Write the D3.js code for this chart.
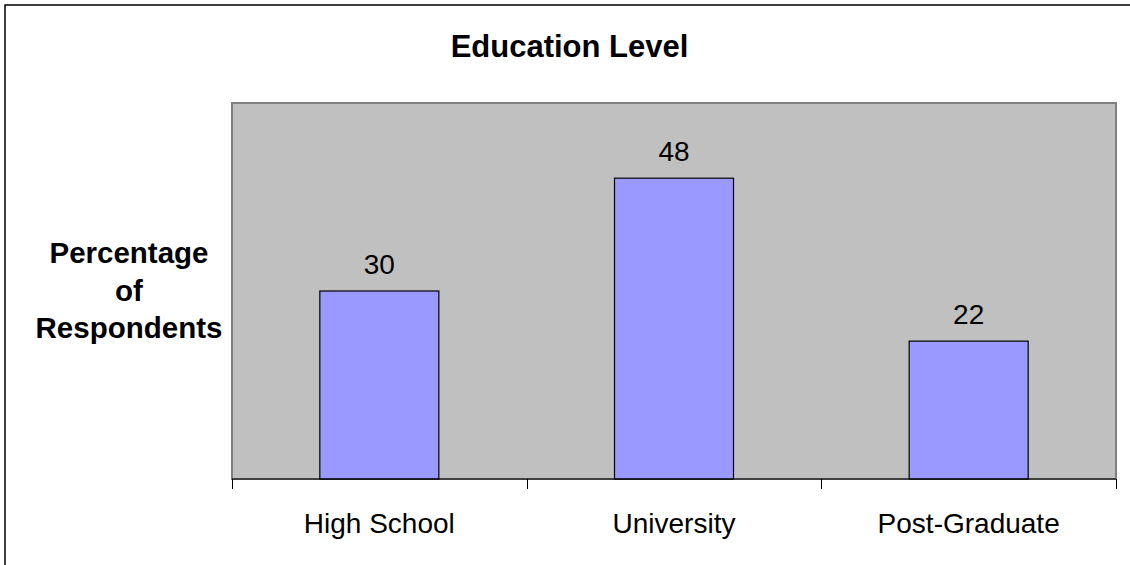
<!DOCTYPE html>
<html>
<head>
<meta charset="utf-8">
<script src="https://cdn.jsdelivr.net/npm/d3@7"></script>
<style>
  html, body { margin: 0; padding: 0; background: #fff; }
  svg { display: block; }
  text { font-family: Arial, "Liberation Sans", sans-serif; fill: #000; }
</style>
</head>
<body>
<svg id="chart" width="1130" height="565"></svg>
<script>
const categories = ["High School", "University", "Post-Graduate"];
const values = [30, 48, 22];
const yDomain = [0, 60];
const chartTitle = "Education Level";
const yLabelLines = ["Percentage", "of", "Respondents"];

const W = 1130, H = 565;
const plot = { left: 232, right: 1116, top: 103, bottom: 479 };

const svg = d3.select("#chart");

// outer frame
svg.append("rect")
  .attr("x", 5).attr("y", 5)
  .attr("width", W).attr("height", H)
  .attr("fill", "#fff")
  .attr("stroke", "#000").attr("stroke-width", 1.5);

const x = d3.scaleBand()
  .domain(categories)
  .range([plot.left, plot.right])
  .paddingInner(0.6).paddingOuter(0.3);

const xEdges = d3.scaleLinear()
  .domain([0, categories.length])
  .range([plot.left, plot.right]);

const y = d3.scaleLinear()
  .domain(yDomain)
  .range([plot.bottom, plot.top]);

// plot area
svg.append("rect")
  .attr("x", plot.left).attr("y", plot.top)
  .attr("width", plot.right - plot.left)
  .attr("height", plot.bottom - plot.top)
  .attr("fill", "#C0C0C0")
  .attr("stroke", "#808080").attr("stroke-width", 2);

// bars
const bandW = (plot.right - plot.left) / categories.length;
const barW = 119;
svg.append("g").selectAll("rect")
  .data(values)
  .join("rect")
  .attr("x", (d, i) => xEdges(i) + bandW / 2 - barW / 2)
  .attr("y", d => y(d))
  .attr("width", barW)
  .attr("height", d => y(0) - y(d))
  .attr("fill", "#9999FF")
  .attr("stroke", "#000").attr("stroke-width", 1.2);

// value labels
svg.append("g").selectAll("text")
  .data(values)
  .join("text")
  .attr("x", (d, i) => xEdges(i) + bandW / 2)
  .attr("y", d => y(d) - 17)
  .attr("text-anchor", "middle")
  .attr("font-size", 28)
  .text(d => d);

// x axis line + ticks
const axisG = svg.append("g");
axisG.append("line")
  .attr("x1", plot.left).attr("x2", plot.right)
  .attr("y1", plot.bottom).attr("y2", plot.bottom)
  .attr("stroke", "#000").attr("stroke-width", 1.2);
axisG.selectAll("line.tick")
  .data(d3.range(categories.length + 1))
  .join("line")
  .attr("class", "tick")
  .attr("x1", d => Math.round(xEdges(d)) + 0.5)
  .attr("x2", d => Math.round(xEdges(d)) + 0.5)
  .attr("y1", plot.bottom)
  .attr("y2", plot.bottom + 10)
  .attr("stroke", "#000").attr("stroke-width", 1);

// category labels
axisG.selectAll("text")
  .data(categories)
  .join("text")
  .attr("x", (d, i) => xEdges(i) + bandW / 2)
  .attr("y", 533)
  .attr("text-anchor", "middle")
  .attr("font-size", 28)
  .text(d => d);

// title
svg.append("text")
  .attr("x", 569.5).attr("y", 57)
  .attr("text-anchor", "middle")
  .attr("font-size", 31)
  .attr("font-weight", "bold")
  .text(chartTitle);

// y label
svg.append("g").selectAll("text")
  .data(yLabelLines)
  .join("text")
  .attr("x", 129)
  .attr("y", (d, i) => 263 + i * 37.5)
  .attr("text-anchor", "middle")
  .attr("font-size", 29.5)
  .attr("font-weight", "bold")
  .text(d => d);
</script>
</body>
</html>
